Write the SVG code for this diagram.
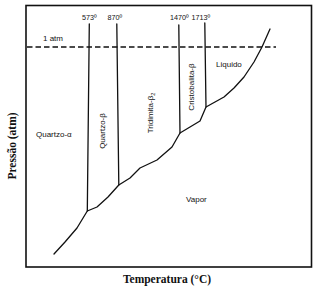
<svg xmlns="http://www.w3.org/2000/svg" width="317" height="294" viewBox="0 0 317 294">
<style>
.frame{fill:none;stroke:#111;stroke-width:1.6}
.ln{fill:none;stroke:#111;stroke-width:1.3;stroke-linejoin:round;stroke-linecap:round}
.dash{fill:none;stroke:#111;stroke-width:1.3;stroke-dasharray:5.5 3}
.lbl{font-family:"Liberation Sans",Arial,sans-serif;font-size:8px;fill:#111}
.tmp{font-family:"Liberation Sans",Arial,sans-serif;font-size:7.2px;fill:#111}
.ax{font-family:"Liberation Serif","Times New Roman",serif;font-weight:bold;font-size:11.5px;fill:#111}
</style>
<rect width="317" height="294" fill="#fff"/>
<g id="frame"><rect class="frame" x="26" y="5.5" width="285.5" height="261.5"/></g>
<g id="connectors">
<line class="dash" x1="27" y1="47" x2="276" y2="47"/>
<line id="l573" class="ln" x1="89.3" y1="24" x2="87.3" y2="211"/>
<line id="l870" class="ln" x1="116.8" y1="24" x2="118.8" y2="185"/>
<line id="l1470" class="ln" x1="178.8" y1="25" x2="180" y2="133"/>
<line id="l1713" class="ln" x1="204.8" y1="23" x2="206" y2="107"/>
<polyline id="curve" class="ln" points="54,254 65,242 77,228 87.3,211 97,207 108,197 118.8,185 130,178 140,168 157,160 172,147 180,133 190,127 200,121 206,107 215,102 224,97 234,88 244,77 254,62 262,47 270,29"/>
</g>
<g id="t573"><text class="tmp" x="82" y="20">573º</text></g>
<g id="t870"><text class="tmp" x="107.5" y="20">870º</text></g>
<g id="t1470"><text class="tmp" x="170" y="20">1470º</text></g>
<g id="t1713"><text class="tmp" x="191.5" y="20">1713º</text></g>
<g id="atm"><text class="lbl" x="43" y="40.5">1 atm</text></g>
<g id="quartzo-a"><text class="lbl" x="36" y="136.5">Quartzo-α</text></g>
<g id="quartzo-b"><text class="lbl" transform="translate(104.5,131) rotate(-90)" text-anchor="middle">Quartzo-β</text></g>
<g id="tridimita"><text class="lbl" transform="translate(153,113) rotate(-90)" text-anchor="middle">Tridimita-β<tspan font-size="5.5px" dy="2">2</tspan></text></g>
<g id="cristobalita"><text class="lbl" transform="translate(193.5,87) rotate(-90)" text-anchor="middle">Cristobalita-β</text></g>
<g id="liquido"><text class="lbl" x="216" y="66.5">Liquido</text></g>
<g id="vapor"><text class="lbl" x="186" y="201.5">Vapor</text></g>
<g id="ylabel"><text class="ax" transform="translate(16,146) rotate(-90)" text-anchor="middle">Pressão (atm)</text></g>
<g id="xlabel"><text class="ax" x="167" y="283" text-anchor="middle">Temperatura (°C)</text></g>
</svg>
